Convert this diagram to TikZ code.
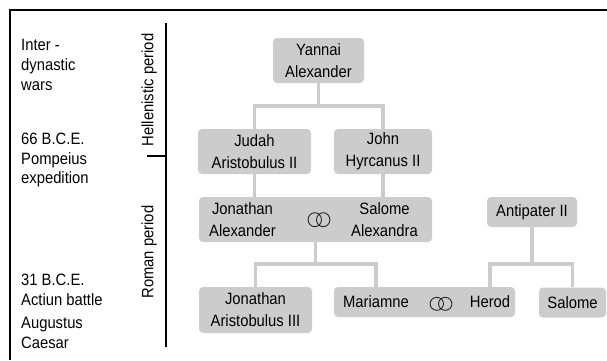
\documentclass[tikz,border=0pt]{standalone}
\usepackage{fontspec}
\setmainfont{Liberation Sans}[FakeStretch=0.9]
\usepackage{xcolor}

\begin{document}
\begin{tikzpicture}[x=1bp,y=-1bp,
        person/.style={fill=gray!40, rounded corners=4bp, inner sep=0pt, align=center, font=\fontsize{16.5}{22}\selectfont},
        spouse/.style={inner sep=0pt, align=center, font=\fontsize{16.5}{22}\selectfont},
        eventnote/.style={anchor=west, inner sep=0pt, align=left, font=\fontsize{16.5}{20}\selectfont},
        era/.style={rotate=90, inner sep=0pt, font=\fontsize{16.5}{20}\selectfont},
        link/.style={draw=gray!40, line width=3.5bp},
        ring/.style={draw=black!85, line width=0.9bp}]
            \useasboundingbox (0,0) rectangle (607,360);
            \draw[line width=1.5bp] (10,360) -- (10,10) -- (607,10);
            \draw[line width=2.5bp] (166,23) -- (166,347);
            \draw[line width=2.5bp] (147,156) -- (166,156);
            \node[era] (hellen) at (149,90) {Hellenistic period};
            \node[era] (roman) at (149,252) {Roman period};
            \node[eventnote] (wars) at (21,65) {Inter -\\dynastic\\wars};
            \node[eventnote] (pompey) at (21,160) {66 B.C.E.\\Pompeius\\expedition};
            \node[eventnote] (actium) at (21,289.5) {31 B.C.E.\\Actiun battle};
            \node[eventnote] (augustus) at (21,333) {Augustus\\Caesar};
            \node[person, minimum width=91bp, minimum height=45bp] (yannai) at (318.5,60.5) {Yannai\\Alexander};
            \node[person, minimum width=113bp, minimum height=45bp] (judah) at (254.5,151.5) {Judah\\Aristobulus II};
            \node[person, minimum width=98bp, minimum height=45bp] (john) at (383,151.5) {John\\Hyrcanus II};
            \node[person, minimum width=233bp, minimum height=45bp] (jonsal) at (315.5,219.5) {};
            \node[spouse] (jonathan) at (242.5,219.5) {Jonathan\\Alexander};
            \node[spouse] (salomea) at (384.5,219.5) {Salome\\Alexandra};
            \node[person, minimum width=113bp, minimum height=46bp] (aristo) at (255.5,310) {Jonathan\\Aristobulus III};
            \node[person, minimum width=181bp, minimum height=30bp] (marher) at (424.5,302) {};
            \node[spouse] (mariamne) at (376,302) {Mariamne};
            \node[spouse] (herod) at (490,302) {Herod};
            \node[person, minimum width=90bp, minimum height=30bp] (antipater) at (532,212) {Antipater II};
            \node[person, minimum width=67bp, minimum height=30bp] (salome) at (572.5,302.5) {Salome};
            \coordinate (wed1) at (319,219.7);
            \coordinate (wed2) at (441,303.8);
            \draw[ring] ([xshift=-4.2bp]wed1) ellipse [x radius=6.7, y radius=7];
            \draw[ring] ([xshift=4.2bp]wed1) ellipse [x radius=6.7, y radius=7];
            \draw[ring] ([xshift=-4.2bp]wed2) ellipse [x radius=6.7, y radius=6.5];
            \draw[ring] ([xshift=4.2bp]wed2) ellipse [x radius=6.7, y radius=6.5];
            \coordinate (fork1) at (318.5,106);
            \coordinate (fork2) at (315.5,264);
            \coordinate (fork3) at (532,264);
            \draw[link] (yannai.south) -- (fork1);
            \draw[link] (judah.north) |- (fork1) -| (john.north);
            \draw[link] (judah.south) -- (judah.south |- jonsal.north);
            \draw[link] (john.south) -- (john.south |- jonsal.north);
            \draw[link] (jonsal.south) -- (fork2);
            \draw[link] (aristo.north) |- (fork2) -| (mariamne.north |- marher.north);
            \draw[link] (antipater.south) -- (fork3);
            \draw[link] (herod.north |- marher.north) |- (fork3) -| (salome.north);
        \end{tikzpicture}
\end{document}
